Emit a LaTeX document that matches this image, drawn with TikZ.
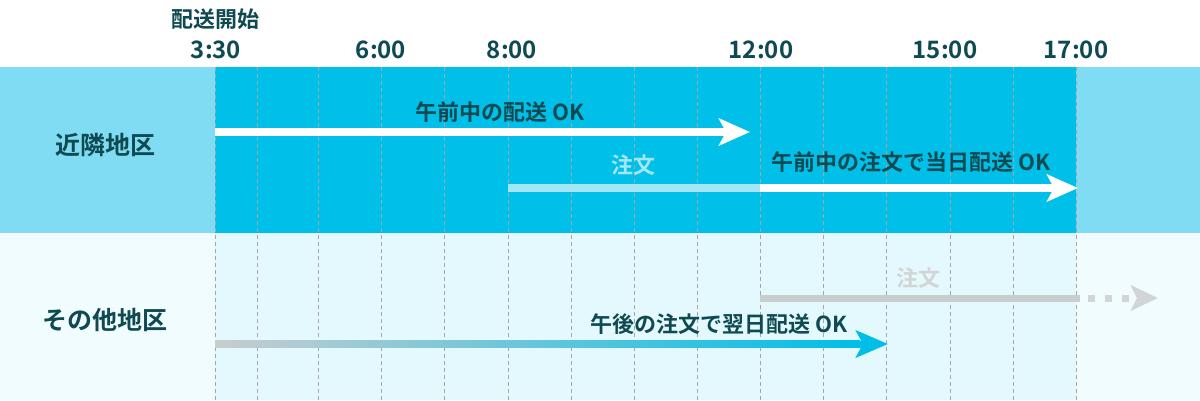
\documentclass[tikz,border=0pt]{standalone}
\usepackage{fontspec}
\setmainfont{Noto Sans CJK JP}[BoldFont={Noto Sans CJK JP Bold}]
\usetikzlibrary{arrows.meta}
\definecolor{leftTop}{HTML}{7FDCF3}
\definecolor{mainTop}{HTML}{00BFE8}
\definecolor{leftBot}{HTML}{F0FCFE}
\definecolor{mainBot}{HTML}{E4F9FD}
\definecolor{ink}{HTML}{0F4A52}
\definecolor{gridc}{HTML}{A6A6A6}
\definecolor{orderc}{HTML}{A3E7F6}
\definecolor{greyc}{HTML}{C8CDCE}
\definecolor{greyd}{HTML}{D2D5D5}
\definecolor{cyanc}{HTML}{00BEE8}
\tikzset{
  gridline/.style={draw=gridc, line width=1pt, dash pattern=on 4pt off 3pt},
  lbl/.style={font=\bfseries\fontsize{22}{24}\selectfont, text=ink, inner sep=0pt},
  timelbl/.style={font=\bfseries\fontsize{24}{26}\selectfont, text=ink, inner sep=0pt},
  rowlbl/.style={font=\bfseries\fontsize{25}{27}\selectfont, text=ink, inner sep=0pt},
  bigtip/.tip={Stealth[length=31pt,width=27pt,inset=7pt]},
  wline/.style={draw=white, line width=8pt},
}
\begin{document}
\begin{tikzpicture}[x=1pt,y=-1pt]
\useasboundingbox (0,0) rectangle (1200,400);
% backgrounds
\fill[white] (0,0) rectangle (1200,67);
\fill[leftTop] (0,67) rectangle (1200,233);
\fill[mainTop] (215,67) rectangle (1076,233);
\fill[leftBot] (0,233) rectangle (1200,400);
\fill[mainBot] (215,233) rectangle (1076,400);
% grid
\foreach \x in {215,257,318,381,444,508,571,634,697,760,823,886,950,1013,1076}
  \draw[gridline] (\x,67) -- (\x,400);
% header labels
\node[lbl] (start) at (215,19) {配送開始};
\node[timelbl] (t1) at (216,50) {3:30};
\node[timelbl] (t2) at (381,50) {6:00};
\node[timelbl] (t3) at (512,50) {8:00};
\node[timelbl] (t4) at (761,50) {12:00};
\node[timelbl] (t5) at (945,50) {15:00};
\node[timelbl] (t6) at (1076,50) {17:00};
% row labels
\node[rowlbl] (r1) at (105,145) {近隣地区};
\node[rowlbl] (r2) at (105,320) {その他地区};
% arrow 1
\coordinate (a1s) at (215,132);
\coordinate (a1e) at (750,132);
\draw[wline, -bigtip] (a1s) -- (a1e);
\node[lbl] (l1) at (500,112) {午前中の配送 OK};
% arrow 2
\coordinate (a2s) at (508,188);
\coordinate (a2m) at (760,188);
\coordinate (a2e) at (1078,188);
\draw[draw=orderc, line width=8pt] (a2s) -- (a2m);
\draw[wline, -bigtip] (a2m) -- (a2e);
\node[lbl, text=orderc] (o1) at (633,165) {注文};
\node[lbl] (l2) at (911,162) {午前中の注文で当日配送 OK};
% arrow 3 (grey)
\coordinate (a3s) at (760,298);
\coordinate (a3m) at (1080,298);
\coordinate (a3d) at (1088,298);
\coordinate (a3e) at (1158,298);
\draw[draw=greyc, line width=7pt] (a3s) -- (a3m);
\draw[draw=greyd, line width=7pt, dash pattern=on 7pt off 10pt,
  -{Stealth[length=27pt,width=25pt,inset=6pt]}] (a3d) -- (a3e);
\node[lbl, text=greyd] (o2) at (918,278) {注文};
% arrow 4 (gradient)
\coordinate (a4s) at (215,344);
\coordinate (a4h) at (850,344);
\coordinate (a4e) at (888,344);
\shade[left color=greyc, right color=cyanc] (215,340.5) rectangle (860,347.5);
\draw[draw=cyanc, line width=7pt, -{Stealth[length=32pt,width=27pt,inset=7pt]}] (a4h) -- (a4e);
\node[lbl] (l3) at (719,324) {午後の注文で翌日配送 OK};
\end{tikzpicture}
\end{document}
